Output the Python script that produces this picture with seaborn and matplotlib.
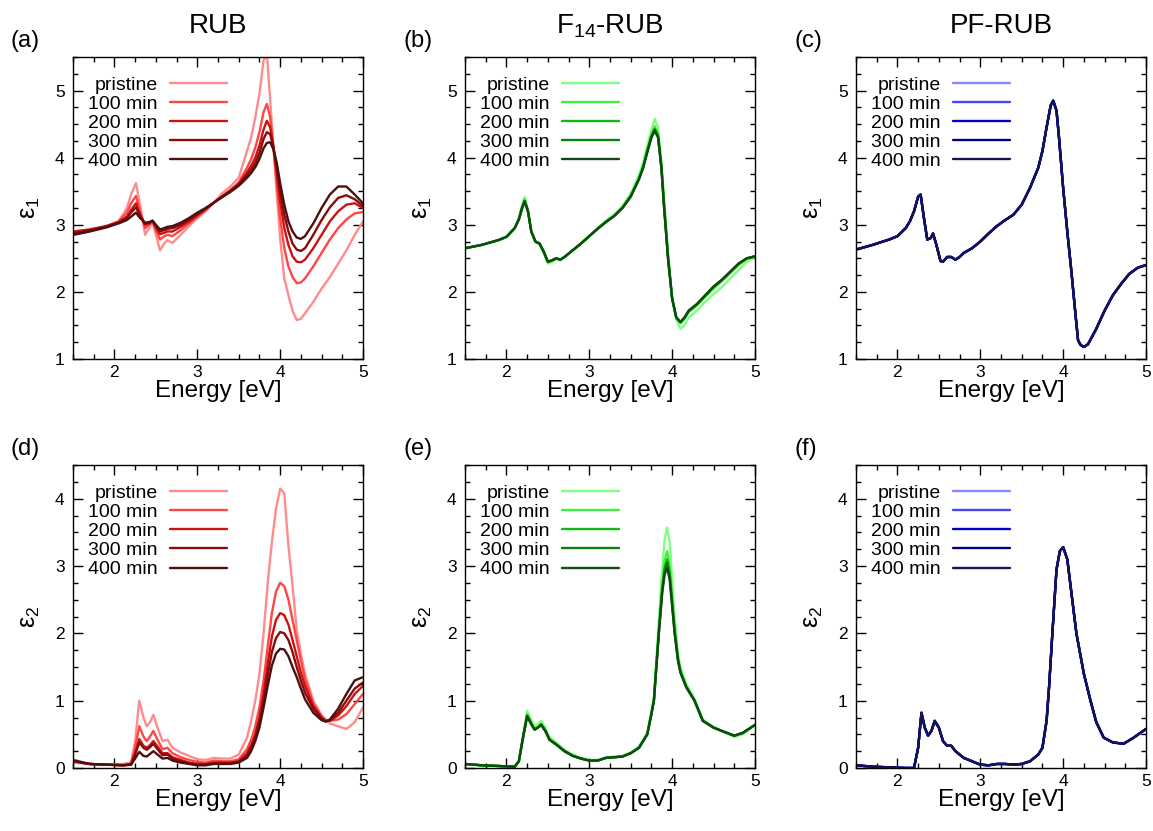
import numpy as np
import pandas as pd
import matplotlib
matplotlib.use("Agg")
import matplotlib.pyplot as plt
import seaborn as sns
from matplotlib.ticker import MultipleLocator

# ---------------- data ----------------
series_names = ["pristine", "100 min", "200 min", "300 min", "400 min"]

rub_colors = ["#ff8c8c", "#ff4545", "#cc1111", "#8b0a0a", "#4d1010"]
f14_colors = ["#80ff80", "#40f040", "#10b810", "#0a800a", "#104a10"]
pf_colors = ["#8888ff", "#4444ff", "#0000cc", "#00008b", "#141450"]

# (a) RUB eps1
E_a = [1.5, 1.7, 1.9, 2.05, 2.15, 2.2, 2.26, 2.31, 2.37, 2.42, 2.46, 2.5, 2.55, 2.6, 2.64, 2.7,
       2.8, 2.9, 3.0, 3.1, 3.2, 3.3, 3.4, 3.5, 3.6, 3.65, 3.7, 3.75, 3.8, 3.84, 3.88, 3.92, 3.96,
       4.0, 4.05, 4.1, 4.15, 4.2, 4.25, 4.3, 4.4, 4.5, 4.6, 4.7, 4.8, 4.9, 5.0]
rub_e1_pristine = [2.85, 2.9, 2.97, 3.05, 3.25, 3.45, 3.62, 3.3, 2.85, 2.95, 3.05, 2.85, 2.62, 2.72, 2.77, 2.73,
                   2.85, 2.98, 3.1, 3.2, 3.33, 3.47, 3.57, 3.7, 4.1, 4.3, 4.6, 4.95, 5.45, 5.55, 4.85, 4.15, 3.45,
                   2.8, 2.2, 1.95, 1.72, 1.58, 1.6, 1.68, 1.85, 2.05, 2.22, 2.42, 2.62, 2.85, 3.05]
rub_e1_100 = [2.88, 2.92, 2.98, 3.05, 3.18, 3.32, 3.43, 3.2, 2.95, 3.0, 3.05, 2.92, 2.78, 2.83, 2.85, 2.83,
              2.92, 3.02, 3.12, 3.22, 3.33, 3.43, 3.52, 3.63, 3.85, 3.98, 4.15, 4.38, 4.68, 4.8, 4.6, 4.15, 3.6,
              3.1, 2.65, 2.38, 2.22, 2.13, 2.14, 2.2, 2.38, 2.58, 2.78, 2.95, 3.08, 3.17, 3.19]
rub_e1_200 = [2.9, 2.93, 2.98, 3.04, 3.12, 3.22, 3.32, 3.15, 3.0, 3.02, 3.06, 2.96, 2.86, 2.88, 2.9, 2.9,
              2.97, 3.05, 3.14, 3.23, 3.33, 3.42, 3.51, 3.61, 3.78, 3.88, 4.0, 4.18, 4.42, 4.55, 4.45, 4.15, 3.75,
              3.35, 2.95, 2.7, 2.53, 2.45, 2.44, 2.48, 2.65, 2.85, 3.05, 3.2, 3.3, 3.32, 3.25]
rub_e1_300 = [2.87, 2.92, 2.97, 3.03, 3.1, 3.18, 3.26, 3.13, 3.02, 3.03, 3.06, 2.98, 2.9, 2.92, 2.94, 2.95,
              3.0, 3.08, 3.16, 3.24, 3.33, 3.42, 3.5, 3.6, 3.74, 3.82, 3.92, 4.07, 4.28, 4.38, 4.35, 4.15, 3.85,
              3.5, 3.15, 2.9, 2.72, 2.63, 2.61, 2.65, 2.85, 3.07, 3.26, 3.4, 3.44, 3.38, 3.28]
rub_e1_400 = [2.85, 2.9, 2.96, 3.02, 3.07, 3.12, 3.18, 3.1, 3.03, 3.04, 3.06, 3.0, 2.93, 2.95, 2.97, 2.98,
              3.03, 3.1, 3.18, 3.25, 3.33, 3.41, 3.49, 3.58, 3.7, 3.77, 3.86, 3.98, 4.14, 4.22, 4.23, 4.12, 3.92,
              3.62, 3.3, 3.05, 2.9, 2.81, 2.79, 2.83, 3.02, 3.25, 3.45, 3.57, 3.57, 3.45, 3.32]

# (d) RUB eps2
E_d = [1.5, 1.7, 1.9, 2.1, 2.2, 2.25, 2.3, 2.35, 2.39, 2.43, 2.47, 2.52, 2.58, 2.64, 2.7, 2.8, 2.9,
       3.0, 3.1, 3.2, 3.3, 3.4, 3.5, 3.6, 3.65, 3.7, 3.75, 3.8, 3.85, 3.9, 3.95, 4.0, 4.05, 4.1, 4.15,
       4.2, 4.25, 4.3, 4.4, 4.5, 4.55, 4.6, 4.7, 4.8, 4.9, 5.0]
rub_e2_pristine = [0.08, 0.06, 0.05, 0.06, 0.08, 0.4, 1.0, 0.75, 0.62, 0.68, 0.79, 0.6, 0.4, 0.42, 0.3, 0.23, 0.18,
                   0.13, 0.12, 0.15, 0.14, 0.14, 0.2, 0.45, 0.7, 1.0, 1.4, 2.0, 2.75, 3.35, 3.85, 4.15, 4.08, 3.3, 2.7,
                   2.05, 1.7, 1.4, 1.0, 0.78, 0.72, 0.66, 0.62, 0.58, 0.68, 0.9]
rub_e2_100 = [0.1, 0.06, 0.05, 0.05, 0.06, 0.3, 0.62, 0.47, 0.4, 0.47, 0.55, 0.42, 0.28, 0.3, 0.22, 0.16, 0.12,
              0.09, 0.08, 0.11, 0.1, 0.1, 0.13, 0.28, 0.42, 0.62, 0.9, 1.3, 1.8, 2.3, 2.62, 2.75, 2.7, 2.5, 2.2,
              1.9, 1.6, 1.32, 0.96, 0.77, 0.71, 0.7, 0.72, 0.8, 0.95, 1.1]
rub_e2_200 = [0.1, 0.06, 0.05, 0.04, 0.05, 0.22, 0.43, 0.33, 0.3, 0.34, 0.4, 0.32, 0.22, 0.22, 0.16, 0.12, 0.08,
              0.06, 0.06, 0.08, 0.08, 0.08, 0.1, 0.22, 0.34, 0.5, 0.75, 1.1, 1.55, 1.95, 2.2, 2.3, 2.27, 2.13, 1.9,
              1.66, 1.42, 1.22, 0.92, 0.75, 0.7, 0.7, 0.78, 0.92, 1.1, 1.22]
rub_e2_300 = [0.1, 0.06, 0.05, 0.04, 0.05, 0.2, 0.38, 0.3, 0.27, 0.31, 0.36, 0.28, 0.19, 0.2, 0.14, 0.1, 0.07,
              0.05, 0.05, 0.07, 0.07, 0.07, 0.09, 0.18, 0.3, 0.45, 0.68, 1.0, 1.38, 1.72, 1.93, 2.02, 2.0, 1.9, 1.72,
              1.5, 1.3, 1.12, 0.88, 0.73, 0.69, 0.71, 0.82, 1.0, 1.18, 1.27]
rub_e2_400 = [0.12, 0.06, 0.05, 0.04, 0.05, 0.14, 0.24, 0.18, 0.17, 0.21, 0.25, 0.2, 0.14, 0.15, 0.11, 0.08, 0.06,
              0.04, 0.04, 0.06, 0.06, 0.06, 0.08, 0.15, 0.25, 0.4, 0.6, 0.9, 1.22, 1.52, 1.7, 1.77, 1.76, 1.66, 1.5,
              1.35, 1.18, 1.02, 0.82, 0.71, 0.69, 0.72, 0.88, 1.1, 1.3, 1.35]

# (b) F14-RUB eps1
E_b = [1.5, 1.7, 1.9, 2.0, 2.1, 2.15, 2.19, 2.22, 2.26, 2.3, 2.35, 2.4, 2.45, 2.5, 2.55, 2.6, 2.65, 2.7,
       2.8, 2.9, 3.0, 3.1, 3.2, 3.3, 3.4, 3.5, 3.6, 3.65, 3.7, 3.75, 3.79, 3.83, 3.87, 3.9, 3.95, 4.0,
       4.05, 4.1, 4.15, 4.2, 4.3, 4.4, 4.5, 4.6, 4.7, 4.8, 4.9, 5.0]
f14_e1_pristine = [2.65, 2.7, 2.77, 2.82, 2.95, 3.1, 3.3, 3.42, 3.22, 2.9, 2.74, 2.71, 2.58, 2.42, 2.45, 2.49, 2.47, 2.51,
                   2.62, 2.73, 2.84, 2.95, 3.06, 3.15, 3.28, 3.46, 3.74, 3.93, 4.18, 4.42, 4.58, 4.45, 3.95, 3.45, 2.6, 1.9,
                   1.58, 1.45, 1.5, 1.62, 1.72, 1.85, 1.97, 2.07, 2.2, 2.32, 2.45, 2.52]
f14_e1_100 = [2.65, 2.7, 2.77, 2.82, 2.95, 3.09, 3.28, 3.38, 3.21, 2.9, 2.75, 2.72, 2.59, 2.44, 2.46, 2.5, 2.48, 2.52,
              2.62, 2.72, 2.83, 2.94, 3.05, 3.14, 3.26, 3.44, 3.7, 3.88, 4.12, 4.35, 4.47, 4.36, 3.9, 3.38, 2.55, 1.9,
              1.62, 1.53, 1.6, 1.7, 1.8, 1.93, 2.05, 2.16, 2.28, 2.4, 2.49, 2.53]
f14_e1_200 = [2.65, 2.7, 2.77, 2.82, 2.95, 3.08, 3.26, 3.36, 3.2, 2.9, 2.75, 2.72, 2.6, 2.45, 2.47, 2.5, 2.48, 2.52,
              2.62, 2.72, 2.83, 2.94, 3.04, 3.13, 3.25, 3.43, 3.69, 3.86, 4.1, 4.32, 4.43, 4.33, 3.87, 3.33, 2.52, 1.9,
              1.62, 1.55, 1.61, 1.71, 1.81, 1.94, 2.07, 2.17, 2.29, 2.41, 2.5, 2.53]
f14_e1_300 = [2.65, 2.7, 2.77, 2.82, 2.95, 3.08, 3.25, 3.35, 3.2, 2.9, 2.75, 2.72, 2.6, 2.45, 2.47, 2.5, 2.48, 2.52,
              2.62, 2.72, 2.83, 2.94, 3.04, 3.13, 3.25, 3.42, 3.68, 3.85, 4.09, 4.31, 4.42, 4.31, 3.86, 3.31, 2.51, 1.9,
              1.62, 1.55, 1.62, 1.72, 1.82, 1.95, 2.08, 2.18, 2.3, 2.42, 2.5, 2.53]
f14_e1_400 = [2.65, 2.7, 2.77, 2.82, 2.95, 3.08, 3.25, 3.35, 3.2, 2.9, 2.75, 2.72, 2.6, 2.45, 2.47, 2.5, 2.48, 2.52,
              2.62, 2.72, 2.83, 2.94, 3.04, 3.13, 3.25, 3.42, 3.68, 3.85, 4.08, 4.3, 4.4, 4.3, 3.85, 3.3, 2.5, 1.9,
              1.62, 1.55, 1.62, 1.72, 1.82, 1.95, 2.08, 2.18, 2.3, 2.42, 2.5, 2.53]

# (e) F14-RUB eps2
E_e = [1.5, 1.7, 1.9, 2.1, 2.15, 2.2, 2.25, 2.3, 2.34, 2.38, 2.42, 2.47, 2.52, 2.6, 2.7, 2.8, 2.9, 3.0,
       3.1, 3.2, 3.3, 3.4, 3.5, 3.6, 3.7, 3.75, 3.78, 3.84, 3.88, 3.91, 3.94, 3.97, 4.0, 4.03, 4.07, 4.1,
       4.17, 4.27, 4.37, 4.5, 4.6, 4.75, 4.85, 5.0]
f14_e2_pristine = [0.06, 0.04, 0.03, 0.02, 0.1, 0.48, 0.85, 0.72, 0.62, 0.65, 0.7, 0.6, 0.46, 0.38, 0.27, 0.2, 0.15, 0.12,
                   0.12, 0.16, 0.17, 0.18, 0.23, 0.32, 0.52, 0.85, 1.05, 2.2, 2.95, 3.4, 3.57, 3.35, 2.8, 2.25, 1.7, 1.5,
                   1.25, 1.03, 0.72, 0.61, 0.55, 0.46, 0.5, 0.64]
f14_e2_100 = [0.06, 0.04, 0.03, 0.02, 0.1, 0.46, 0.8, 0.67, 0.58, 0.61, 0.66, 0.56, 0.43, 0.36, 0.26, 0.19, 0.14, 0.11,
              0.11, 0.15, 0.16, 0.17, 0.22, 0.31, 0.51, 0.82, 1.02, 2.08, 2.72, 3.08, 3.22, 3.0, 2.55, 2.1, 1.65, 1.45,
              1.22, 1.01, 0.71, 0.6, 0.55, 0.48, 0.52, 0.64]
f14_e2_200 = [0.06, 0.04, 0.03, 0.02, 0.1, 0.45, 0.78, 0.66, 0.57, 0.6, 0.65, 0.55, 0.42, 0.35, 0.25, 0.18, 0.14, 0.11,
              0.11, 0.15, 0.16, 0.17, 0.22, 0.3, 0.5, 0.81, 1.01, 2.04, 2.66, 2.98, 3.1, 2.9, 2.47, 2.05, 1.62, 1.43,
              1.21, 1.0, 0.7, 0.6, 0.55, 0.48, 0.52, 0.64]
f14_e2_300 = [0.06, 0.04, 0.03, 0.02, 0.1, 0.45, 0.77, 0.65, 0.57, 0.6, 0.64, 0.55, 0.42, 0.35, 0.25, 0.18, 0.14, 0.11,
              0.11, 0.15, 0.16, 0.17, 0.22, 0.3, 0.5, 0.8, 1.0, 2.02, 2.63, 2.94, 3.05, 2.85, 2.44, 2.02, 1.61, 1.42,
              1.2, 1.0, 0.7, 0.6, 0.55, 0.48, 0.52, 0.64]
f14_e2_400 = [0.06, 0.04, 0.03, 0.02, 0.1, 0.45, 0.77, 0.65, 0.57, 0.6, 0.64, 0.55, 0.42, 0.35, 0.25, 0.18, 0.14, 0.11,
              0.11, 0.15, 0.16, 0.17, 0.22, 0.3, 0.5, 0.8, 1.0, 2.0, 2.6, 2.88, 2.97, 2.8, 2.4, 2.0, 1.6, 1.42,
              1.2, 1.0, 0.7, 0.6, 0.55, 0.48, 0.52, 0.64]

# (c) PF-RUB eps1 (all five measurements overlap)
E_c = [1.5, 1.7, 1.9, 2.0, 2.1, 2.15, 2.2, 2.25, 2.28, 2.32, 2.36, 2.4, 2.43, 2.47, 2.52, 2.55, 2.6,
       2.65, 2.7, 2.75, 2.8, 2.9, 3.0, 3.1, 3.2, 3.3, 3.4, 3.5, 3.6, 3.7, 3.75, 3.8, 3.85, 3.88, 3.92,
       3.95, 4.0, 4.05, 4.1, 4.15, 4.18, 4.21, 4.25, 4.3, 4.4, 4.5, 4.6, 4.7, 4.8, 4.9, 5.0]
pf_e1 = [2.63, 2.7, 2.78, 2.83, 2.95, 3.05, 3.2, 3.42, 3.45, 3.1, 2.78, 2.8, 2.87, 2.7, 2.46, 2.45, 2.52,
         2.52, 2.48, 2.52, 2.58, 2.65, 2.75, 2.87, 2.98, 3.07, 3.15, 3.3, 3.55, 3.85, 4.1, 4.45, 4.78, 4.85, 4.7,
         4.3, 3.55, 2.9, 2.3, 1.65, 1.28, 1.21, 1.18, 1.22, 1.45, 1.72, 1.95, 2.12, 2.27, 2.36, 2.4]

# (f) PF-RUB eps2 (all five measurements overlap)
E_f = [1.5, 1.7, 1.9, 2.1, 2.2, 2.25, 2.29, 2.33, 2.37, 2.41, 2.45, 2.5, 2.55, 2.6, 2.65, 2.7, 2.8,
       2.9, 3.0, 3.1, 3.2, 3.3, 3.4, 3.5, 3.6, 3.7, 3.75, 3.8, 3.83, 3.87, 3.92, 3.96, 4.0, 4.05, 4.1,
       4.16, 4.25, 4.33, 4.4, 4.49, 4.6, 4.73, 4.85, 5.0]
pf_e2 = [0.04, 0.02, 0.01, 0.0, 0.0, 0.3, 0.82, 0.6, 0.48, 0.55, 0.7, 0.6, 0.4, 0.33, 0.33, 0.25, 0.15,
         0.1, 0.05, 0.04, 0.06, 0.06, 0.05, 0.06, 0.1, 0.2, 0.3, 0.7, 1.2, 2.0, 2.95, 3.22, 3.28, 3.1, 2.6,
         2.0, 1.4, 1.0, 0.68, 0.45, 0.38, 0.36, 0.45, 0.58]

# ---------------- figure ----------------
sns.set_style("ticks")
plt.rcParams["font.family"] = ["Liberation Sans", "DejaVu Sans"]
plt.rcParams["mathtext.fontset"] = "custom"
plt.rcParams["mathtext.rm"] = "Liberation Sans"
plt.rcParams["mathtext.it"] = "Liberation Sans"
for k in ["text.color", "axes.labelcolor", "xtick.color", "ytick.color", "axes.edgecolor"]:
    plt.rcParams[k] = "black"

fig = plt.figure(figsize=(11.53, 8.31), dpi=100)

W, H = 1153.0, 831.0
lefts = [73, 465, 856]
aw = 290
rows = [(57, 359), (465, 768)]

panels = [
    (0, 0, E_a, [rub_e1_pristine, rub_e1_100, rub_e1_200, rub_e1_300, rub_e1_400], rub_colors, (1, 5.5), r"$\varepsilon_1$", "(a)"),
    (0, 1, E_b, [f14_e1_pristine, f14_e1_100, f14_e1_200, f14_e1_300, f14_e1_400], f14_colors, (1, 5.5), r"$\varepsilon_1$", "(b)"),
    (0, 2, E_c, [pf_e1, pf_e1, pf_e1, pf_e1, pf_e1], pf_colors, (1, 5.5), r"$\varepsilon_1$", "(c)"),
    (1, 0, E_d, [rub_e2_pristine, rub_e2_100, rub_e2_200, rub_e2_300, rub_e2_400], rub_colors, (0, 4.5), r"$\varepsilon_2$", "(d)"),
    (1, 1, E_e, [f14_e2_pristine, f14_e2_100, f14_e2_200, f14_e2_300, f14_e2_400], f14_colors, (0, 4.5), r"$\varepsilon_2$", "(e)"),
    (1, 2, E_f, [pf_e2, pf_e2, pf_e2, pf_e2, pf_e2], pf_colors, (0, 4.5), r"$\varepsilon_2$", "(f)"),
]
titles = ["RUB", r"F$_{14}$-RUB", "PF-RUB"]

for row, col, E, curves, colors, ylim, ylab, tag in panels:
    top, bot = rows[row]
    ax = fig.add_axes([lefts[col] / W, 1 - bot / H, aw / W, (bot - top) / H])
    frames = []
    for name, vals in zip(series_names, curves):
        frames.append(pd.DataFrame({"E": E, "val": vals, "series": name}))
    df = pd.concat(frames, ignore_index=True)
    sns.lineplot(data=df, x="E", y="val", hue="series", hue_order=series_names,
                 palette=colors, estimator=None, sort=False, linewidth=1.7, ax=ax)
    ax.set_xlim(1.5, 5.0)
    ax.set_ylim(*ylim)
    ax.xaxis.set_major_locator(MultipleLocator(1))
    ax.xaxis.set_minor_locator(MultipleLocator(0.25))
    ax.yaxis.set_major_locator(MultipleLocator(1))
    ax.yaxis.set_minor_locator(MultipleLocator(0.25))
    ax.tick_params(which="both", direction="in", top=True, right=True, width=1.0,
                   colors="black", labelsize=12.5)
    ax.tick_params(axis="x", pad=4)
    ax.tick_params(axis="y", pad=6)
    ax.tick_params(which="major", length=7)
    ax.tick_params(which="minor", length=3.5)
    for sp in ax.spines.values():
        sp.set_linewidth(1.0)
        sp.set_color("black")
    ax.set_xlabel("Energy [eV]", fontsize=17.5, labelpad=0)
    ax.set_ylabel(ylab, fontsize=18, labelpad=9)
    handles, labels = ax.get_legend_handles_labels()
    leg = ax.legend(handles, labels, loc="upper right", bbox_to_anchor=(0.53, 0.937),
                    frameon=False, markerfirst=False, fontsize=14,
                    handlelength=2.9, handletextpad=0.65, labelspacing=0.08,
                    borderaxespad=0.0, borderpad=0.0)
    for lh in leg.get_lines():
        lh.set_linewidth(1.7)
    if row == 0:
        ax.set_title(titles[col], fontsize=20, pad=17)
    fig.text((lefts[col] - 62) / W, 1 - (top - 16) / H, tag, fontsize=17,
             ha="left", va="center")

fig.savefig("out.png", dpi=100)
